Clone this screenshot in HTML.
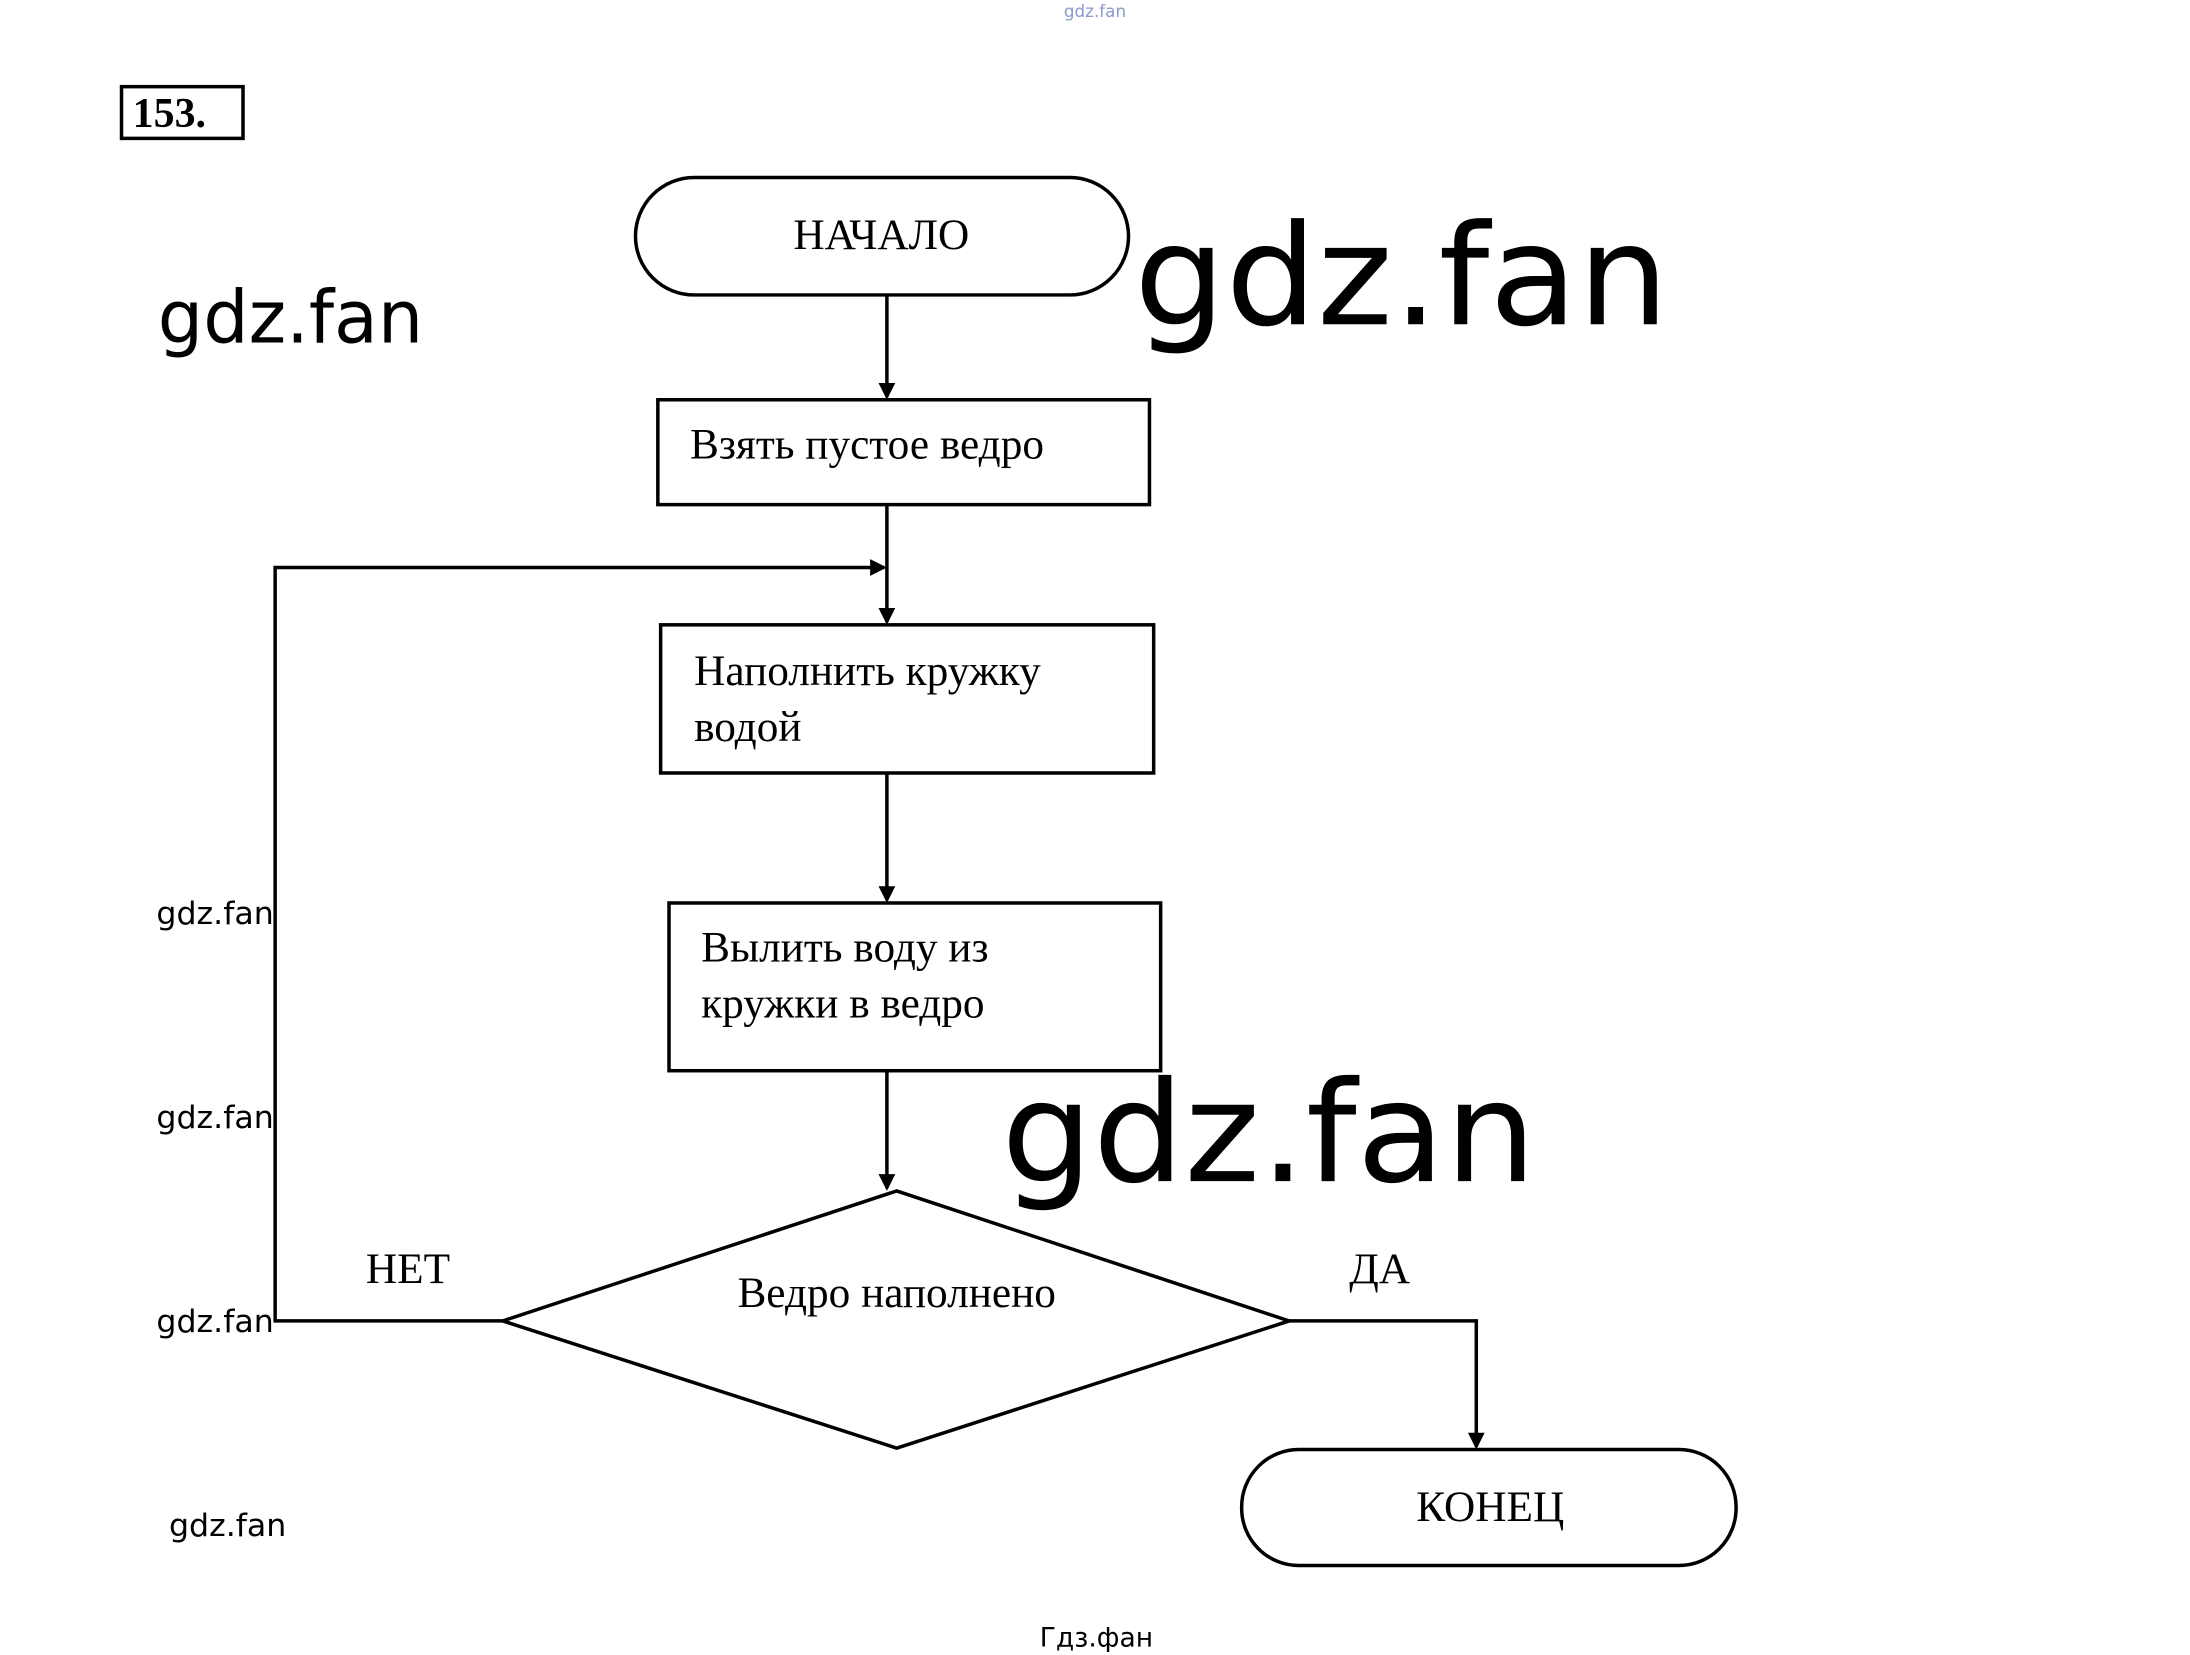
<!DOCTYPE html>
<html><head><meta charset="utf-8"><style>
html,body{margin:0;padding:0;background:#fff;}
svg{display:block;}
.s{font-family:"Liberation Serif","DejaVu Serif",serif;fill:#000;}
.w{font-family:"DejaVu Sans","Liberation Sans",sans-serif;fill:#000;}
</style></head><body>
<svg width="2190" height="1655" viewBox="0 0 1568 1184" preserveAspectRatio="none" xmlns="http://www.w3.org/2000/svg">
<defs><marker id="a" markerWidth="12" markerHeight="12" refX="10" refY="6" orient="auto" markerUnits="userSpaceOnUse"><path d="M0,0 L12,6 L0,12 z" fill="#000"/></marker></defs>
<g stroke="#000" stroke-width="2.5" fill="none">
<rect x="87" y="62" width="87" height="37"/>
<rect x="455" y="127" width="353" height="84" rx="42" ry="42"/>
<rect x="471" y="286" width="352" height="75"/>
<rect x="473" y="447" width="353" height="106"/>
<rect x="479" y="646" width="352" height="120"/>
<polygon points="642,852 923,945 642,1036 360,945"/>
<rect x="889" y="1037" width="354" height="83" rx="41" ry="41"/>
<line x1="635" y1="211" x2="635" y2="284" marker-end="url(#a)"/>
<line x1="635" y1="361" x2="635" y2="445" marker-end="url(#a)"/>
<polyline points="360,945 197,945 197,406 633,406" marker-end="url(#a)"/>
<line x1="635" y1="553" x2="635" y2="644" marker-end="url(#a)"/>
<line x1="635" y1="766" x2="635" y2="850" marker-end="url(#a)"/>
<polyline points="923,945 1057,945 1057,1035" marker-end="url(#a)"/>
</g>
<text class="w" x="784" y="12" font-size="12" text-anchor="middle" style="fill:#8899cc">gdz.fan</text>
<text class="s" x="95" y="91" font-size="30" font-weight="bold">153.</text>
<text class="s" x="631" y="178" font-size="31" text-anchor="middle">НАЧАЛО</text>
<text class="s" x="494" y="328" font-size="31">Взять пустое ведро</text>
<text class="s" x="497" y="490" font-size="31">Наполнить кружку</text>
<text class="s" x="497" y="530" font-size="31">водой</text>
<text class="s" x="502" y="688" font-size="31">Вылить воду из</text>
<text class="s" x="502" y="728" font-size="31">кружки в ведро</text>
<text class="s" x="642" y="935" font-size="31" text-anchor="middle">Ведро наполнено</text>
<text class="s" x="262" y="918" font-size="31">НЕТ</text>
<text class="s" x="966" y="918" font-size="31">ДА</text>
<text class="s" x="1067" y="1088" font-size="31" text-anchor="middle">КОНЕЦ</text>
<text class="w" x="812" y="232" font-size="100" textLength="383" lengthAdjust="spacingAndGlyphs">gdz.fan</text>
<text class="w" x="717" y="845" font-size="100" textLength="383" lengthAdjust="spacingAndGlyphs">gdz.fan</text>
<text class="w" x="113" y="245" font-size="52" textLength="190" lengthAdjust="spacingAndGlyphs">gdz.fan</text>
<text class="w" x="112" y="661" font-size="22" textLength="84" lengthAdjust="spacingAndGlyphs">gdz.fan</text>
<text class="w" x="112" y="807" font-size="22" textLength="84" lengthAdjust="spacingAndGlyphs">gdz.fan</text>
<text class="w" x="112" y="953" font-size="22" textLength="84" lengthAdjust="spacingAndGlyphs">gdz.fan</text>
<text class="w" x="121" y="1099" font-size="22" textLength="84" lengthAdjust="spacingAndGlyphs">gdz.fan</text>
<text class="w" x="785" y="1178" font-size="19" text-anchor="middle">Гдз.фан</text>
</svg>
</body></html>
